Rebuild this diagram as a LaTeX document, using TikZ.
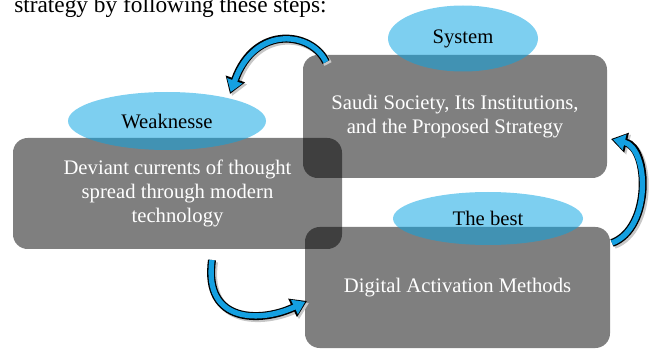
\documentclass[tikz,border=0pt]{standalone}
\usepackage{fontspec}
\setmainfont{Liberation Serif}
\usetikzlibrary{shapes.geometric, arrows.meta}

\definecolor{bubbleblue}{RGB}{10,164,226}
\definecolor{arrowblue}{RGB}{20,160,225}

\begin{document}
\begin{tikzpicture}[x=0.75pt, y=-0.75pt,
    stepbox/.style={rectangle, rounded corners=11pt, fill=black, fill opacity=0.5, text=white, text opacity=1, align=center, font=\fontsize{15.5}{18}\selectfont},
    bubble/.style={ellipse, fill=bubbleblue, fill opacity=0.53, text opacity=1, inner sep=0pt, font=\fontsize{15.5}{18}\selectfont},
    bentarrow/.style={draw=arrowblue, line width=4pt, -{Triangle[length=9pt, width=11.5pt]}, shorten >=1.5pt,
        preaction={draw=black!22, line width=6pt, -{Triangle[length=12pt, width=14.5pt]}, shorten >=0pt, transform canvas={shift={(1.5pt,-1.5pt)}}},
        preaction={draw=black, line width=6pt, -{Triangle[length=12pt, width=14.5pt]}, shorten >=0pt}}
]
    \useasboundingbox (0,0) rectangle (650,349);

    \node[anchor=base west, inner sep=0pt, font=\fontsize{17.5}{21}\selectfont] (intro) at (14,13) {strategy by following these steps:};

    \node[stepbox, minimum width=228pt, minimum height=92.25pt] (society) at (455,116.5) {Saudi Society, Its Institutions,\\and the Proposed Strategy};
    \node[stepbox, minimum width=246.75pt, minimum height=83.25pt] (deviant) at (177.5,193.5) {Deviant currents of thought\\spread through modern\\technology};
    \node[stepbox, minimum width=228.75pt, minimum height=90.75pt] (digital) at (457.5,287.5) {Digital Activation Methods};

    \node[bubble, minimum width=112.5pt, minimum height=49.5pt] (system) at (463,38.5) {System};
    \node[bubble, minimum width=148.5pt, minimum height=43.5pt] (weak) at (167,121) {Weaknesse};
    \node[bubble, minimum width=142.5pt, minimum height=39.75pt] (best) at (488,218.5) {The best};

    \coordinate (tailA) at (326,62);
    \coordinate (headA) at (230,94);
    \coordinate (tailB) at (212,260);
    \coordinate (headB) at (307,301);
    \coordinate (tailC) at (612,243);
    \coordinate (headC) at (611,139);

    \draw[bentarrow] (tailA) .. controls +(-14,-30) and +(25,-70) .. (headA);
    \draw[bentarrow] (tailB) .. controls +(-9,65) and +(-44,21) .. (headB);
    \draw[bentarrow] (tailC) .. controls +(40,-15) and +(38,9) .. (headC);

\end{tikzpicture}
\end{document}
